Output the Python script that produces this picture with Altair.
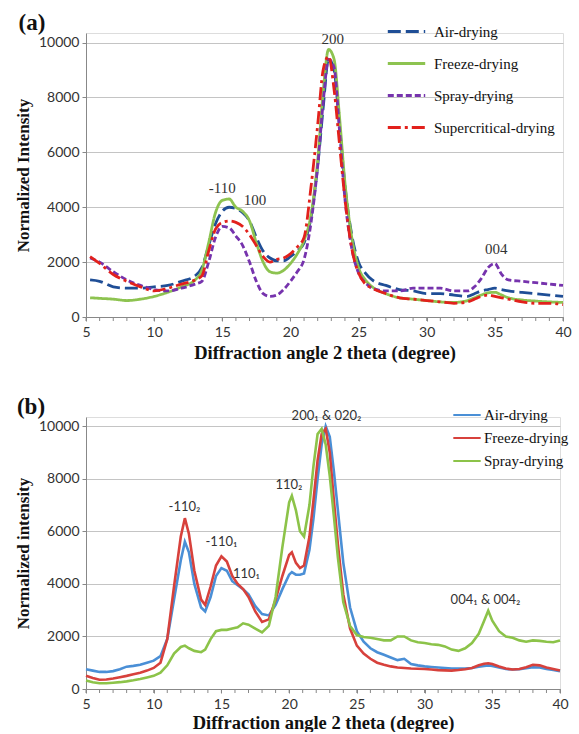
import altair as alt
import pandas as pd

# ---------------- Panel (a) data ----------------
A_SERIES = ["Air-drying", "Freeze-drying", "Spray-drying", "Supercritical-drying"]
A_COLORS = ["#1f4e96", "#8dc350", "#7633ad", "#e2211c"]
A_DASH = [[13, 5], [1, 0], [6, 3], [13, 4, 3, 4]]

a_x = [5.3, 6, 7, 8, 9, 10, 11, 12, 13, 13.5, 14, 14.5, 15, 15.5, 16, 16.5, 17, 17.5,
       18, 18.5, 19, 19.5, 20, 20.5, 21, 21.5, 22, 22.4, 22.8, 23.2, 23.6, 24, 24.5,
       25, 25.5, 26, 27, 28, 29, 30, 31, 32, 33, 33.5, 34, 34.5, 35, 35.5, 36, 37,
       38, 39, 40]
a_air = [1350, 1300, 1100, 1050, 1050, 1100, 1150, 1300, 1500,
         1800, 2600, 3400, 3850, 4000, 3950, 3800, 3500, 2900, 2400, 2150, 2050, 2050,
         2200, 2400, 2700, 3600, 5500,
         7600, 9400, 9000, 7000,
         4800, 3000, 2000, 1600, 1350,
         1150, 1000, 950, 850, 850, 800, 750,
         850, 950, 1000, 1050, 1000, 950,
         900, 850, 800, 750]
a_freeze = [700, 680, 650, 600, 650, 750, 900, 1100, 1350,
            1700, 2700, 3800, 4250, 4300, 4000, 3850, 3500, 2700, 2000, 1650, 1600, 1700,
            1950, 2300, 2800, 3700, 5700,
            8200, 9750, 9400, 7300,
            4900, 2900, 1800, 1350, 1100,
            850, 700, 650, 600, 550, 530, 600,
            700, 800, 880, 900, 800, 700,
            620, 580, 550, 530]
a_spray = [2150, 2000, 1650, 1350, 1150, 1000, 950, 1050, 1200,
           1300, 2000, 2900, 3300, 3250, 2950, 2600, 2000, 1300, 850, 750, 800, 1000,
           1300, 1650, 2100, 3400, 5500,
           7800, 9400, 9100, 6800,
           4300, 2500, 1600, 1250, 1050,
           950, 950, 1050, 1050, 1050, 950, 950,
           1100, 1400, 1800, 1950, 1550, 1350,
           1300, 1250, 1200, 1150]
a_super = [2200, 1950, 1550, 1300, 1100, 950, 1050, 1200, 1350,
           1500, 2400, 3200, 3450, 3500, 3450, 3300, 3000, 2600, 2200, 2000, 2100, 2150,
           2300, 2550, 2900, 4700, 7000,
           9000, 9500, 8300, 6300,
           4300, 2500, 1600, 1200, 1050,
           850, 700, 650, 600, 550, 500, 550,
           650, 750, 800, 750, 700, 650,
           550, 500, 500, 450]

a_ann_text = ["-110", "100", "200", "004"]
a_ann_x = [15.0, 17.4, 23.1, 35.1]
a_ann_y = [4700, 4280, 10120, 2480]

# ---------------- Panel (b) data ----------------
B_SERIES = ["Air-drying", "Freeze-drying", "Spray-drying"]
B_COLORS = ["#4a8fd6", "#d7413c", "#8cc349"]

b_x = [5, 5.5, 6, 6.5, 7, 7.5, 8, 8.5, 9, 9.5, 10, 10.5, 11, 11.5, 12,
       12.3, 12.6, 13, 13.5, 13.8,
       14.2, 14.6, 15, 15.4, 15.8, 16.2, 16.6, 17,
       17.5, 18, 18.5, 19, 19.5, 20,
       20.2, 20.5, 20.8, 21.1, 21.5, 21.8, 22.1, 22.4, 22.7, 23,
       23.3, 23.6, 24, 24.5, 25, 25.5, 26, 26.5, 27, 27.5, 28, 28.5, 29, 29.5, 30,
       30.5, 31, 31.5, 32, 32.5, 33, 33.5, 34,
       34.4, 34.7, 35, 35.5, 36, 36.5, 37, 37.5, 38, 38.5, 39, 39.5, 40]
b_air = [750, 700, 650, 650, 680, 750, 850, 880, 920, 1000, 1080, 1250, 1900, 3400, 4900,
         5600, 5200, 4000, 3100, 2950,
         3500, 4300, 4600, 4500, 4100, 3950, 3800, 3600,
         3150, 2850, 2800, 3200, 3800, 4350,
         4450, 4350, 4350, 4400, 5300, 6500, 8000, 9300, 10000, 9600,
         8300, 6800, 4800, 3100, 2200, 1800, 1550, 1400, 1300, 1200, 1100, 1150, 950, 900, 860,
         840, 820, 800, 780, 780, 780, 800, 850,
         880, 900, 880, 820, 760, 740, 750, 790, 830, 820, 760, 720, 680]
b_freeze = [500, 420, 350, 360, 400, 450, 500, 560, 620, 700, 800, 1000, 1900, 3900, 5800,
            6500, 5900, 4500, 3400, 3200,
            3900, 4700, 5050, 4850, 4300, 4000, 3800, 3500,
            2950, 2550, 2650, 3400, 4300, 5100,
            5200, 4800, 4600, 4700, 5800, 7200, 8700, 9700, 9900, 9000,
            7200, 5500, 3600, 2300, 1650, 1350, 1150, 1000, 920, 860, 820, 800, 780, 770, 760,
            740, 720, 710, 700, 720, 750, 800, 900,
            960, 980, 950, 860, 780, 740, 760, 830, 920, 900, 820, 760, 700]
b_spray = [320, 260, 220, 220, 240, 260, 290, 330, 380, 440, 500, 620, 900, 1350, 1600,
           1650, 1550, 1450, 1400, 1500,
           1900, 2200, 2250, 2250, 2300, 2350, 2500, 2450,
           2300, 2150, 2400, 3500, 5400, 7100,
           7350, 6800, 6000, 5800, 7000, 8500, 9700, 9900, 9300, 8100,
           6600, 5000, 3300, 2400, 2050, 1980, 1950, 1900, 1850, 1850, 2000, 2000, 1850, 1780, 1750,
           1700, 1680, 1620, 1500, 1450, 1550, 1750, 2100,
           2600, 2980, 2600, 2200, 2000, 1950, 1850, 1800, 1850, 1830, 1800, 1780, 1850]

b_ann_text = ["-110\u2082", "-110\u2081", "110\u2081", "110\u2082", "200\u2081 & 020\u2082", "004\u2081 & 004\u2082"]
b_ann_x = [12.27, 15.0, 16.85, 19.98, 22.76, 34.5]
b_ann_y = [6930, 5600, 4360, 7760, 10370, 3370]

x_labels = list(range(5, 41, 5))
x_minor = list(range(5, 41))
y_ticks = list(range(0, 10001, 500))

SERIF = "Liberation Serif"
SANS = "Lato"

# ---------------- build tables ----------------
rows = []
for name, vals in zip(A_SERIES, [a_air, a_freeze, a_spray, a_super]):
    for i, (xv, yv) in enumerate(zip(a_x, vals)):
        rows.append({"x": xv, "y": yv, "series": name, "i": i})
df_a = pd.DataFrame(rows)
ann_a = pd.DataFrame({"x": a_ann_x, "y": a_ann_y, "t": a_ann_text})

rows = []
for name, vals in zip(B_SERIES, [b_air, b_freeze, b_spray]):
    for i, (xv, yv) in enumerate(zip(b_x, vals)):
        rows.append({"x": xv, "y": yv, "series": name, "i": i})
df_b = pd.DataFrame(rows)
ann_b = pd.DataFrame({"x": b_ann_x, "y": b_ann_y, "t": b_ann_text})
minor_df = pd.DataFrame({"x": x_minor})


def x_axis(title_pad):
    return alt.Axis(values=x_labels, grid=False, tickSize=4, tickColor="#888", domainColor="#888",
                    labelFlush=False, labelFont=SANS, labelFontSize=14, labelColor="#333", labelPadding=4,
                    title="Diffraction angle 2 theta (degree)", titleFont=SERIF,
                    titleFontSize=18.5, titleFontWeight="bold", titleColor="#111", titlePadding=title_pad)


def y_axis(title):
    return alt.Axis(values=y_ticks, labelExpr="datum.value % 2000 == 0 ? datum.label : ''",
                    labelOverlap=False, labelFlush=False, format="d", grid=True, gridColor="#c4c4c4",
                    gridWidth=1.2,
                    gridOpacity={"condition": {"test": "datum.value % 2000 === 0", "value": 1}, "value": 0},
                    tickSize=4, tickColor="#888", domainColor="#888",
                    labelFont=SANS, labelFontSize=14, labelColor="#333", labelPadding=3,
                    title=title, titleFont=SERIF, titleFontSize=17, titleFontWeight="bold",
                    titleColor="#111", titlePadding=6)


def legend_a():
    return alt.Legend(title=None, orient="none", legendX=300, legendY=-22,
                      symbolType="stroke", symbolSize=1400, symbolStrokeWidth=3,
                      labelFont=SERIF, labelFontSize=15, labelColor="#111",
                      rowPadding=3, labelOffset=7)


def panel_label(txt, dx):
    return alt.Chart(pd.DataFrame({"t": [txt]})).mark_text(
        font=SERIF, fontSize=23, fontWeight="bold", color="#111", baseline="middle", align="center"
    ).encode(x=alt.value(dx), y=alt.value(-10), text="t:N")


def minor_ticks(h):
    return alt.Chart(minor_df).mark_rule(color="#888", strokeWidth=1).encode(
        x="x:Q", y=alt.value(h), y2=alt.value(h + 4))


lines_a = alt.Chart(df_a).mark_line(strokeWidth=2.8, interpolate="monotone").encode(
    x=alt.X("x:Q", scale=alt.Scale(domain=[5, 40], nice=False, zero=False), axis=x_axis(4)),
    y=alt.Y("y:Q", scale=alt.Scale(domain=[0, 10350], nice=False), axis=y_axis("Normalized Intensity")),
    color=alt.Color("series:N", scale=alt.Scale(domain=A_SERIES, range=A_COLORS), legend=legend_a()),
    strokeDash=alt.StrokeDash("series:N", scale=alt.Scale(domain=A_SERIES, range=A_DASH), legend=legend_a()),
    order="i:Q",
)
text_a = alt.Chart(ann_a).mark_text(font=SERIF, fontSize=15, color="#333").encode(
    x="x:Q", y="y:Q", text="t:N")

chart_a = alt.layer(lines_a, text_a, minor_ticks(284), panel_label("(a)", -54)).properties(
    width=477, height=284)

lines_b = alt.Chart(df_b).mark_line(strokeWidth=2.6, interpolate="linear").encode(
    x=alt.X("x:Q", scale=alt.Scale(domain=[5, 40], nice=False, zero=False), axis=x_axis(2)),
    y=alt.Y("y:Q", scale=alt.Scale(domain=[0, 10350], nice=False), axis=y_axis("Normalized intensity")),
    color=alt.Color("series:N", scale=alt.Scale(domain=B_SERIES, range=B_COLORS),
                    legend=alt.Legend(title=None, orient="none", legendX=366, legendY=-17,
                                      symbolType="stroke", symbolSize=750, symbolStrokeWidth=2,
                                      labelFont=SERIF, labelFontSize=15, labelColor="#111",
                                      rowPadding=0, labelOffset=2)),
    order="i:Q",
)
text_b = alt.Chart(ann_b).mark_text(font=SANS + ", DejaVu Sans", fontSize=13, color="#333").encode(
    x="x:Q", y="y:Q", text="t:N")

chart_b = alt.layer(lines_b, text_b, minor_ticks(272), panel_label("(b)", -55)).properties(
    width=474, height=272)

chart = alt.vconcat(chart_a, chart_b, spacing=33).resolve_scale(
    color="independent", strokeDash="independent"
).properties(
    padding={"left": 13, "top": 10, "right": 2, "bottom": 0}
).configure_view(stroke="transparent").configure(background="white")

chart.save("out.html", embed_options={"renderer": "svg", "actions": False})
